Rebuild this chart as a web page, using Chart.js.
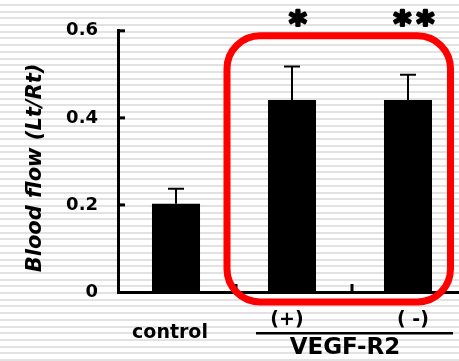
<!DOCTYPE html>
<html>
<head>
<meta charset="utf-8">
<script src="https://cdn.jsdelivr.net/npm/chart.js@4"></script>
<style>
html,body{margin:0;padding:0;}
body{width:459px;height:361px;overflow:hidden;
background:repeating-linear-gradient(to bottom,#ffffff 0px,#ffffff 4px,#e2e2e2 4px,#e2e2e2 6px,#ffffff 6px,#ffffff 6.7px);}
#wrap{position:absolute;left:0;top:0;width:459px;height:361px;overflow:hidden;}
canvas{position:absolute;left:0;top:0;}
</style>
</head>
<body>
<div id="wrap"><canvas id="c" width="480" height="361"></canvas></div>
<script>
const categories = ['control', '(+)', '( -)'];
const means = [0.203, 0.441, 0.441];
const errors = [0.034, 0.077, 0.058];
const stars = ['', '*', '**'];
const yTickLabels = ['0', '0.2', '0.4', '0.6'];
const groupLabel = 'VEGF-R2';
const yTitle = 'Blood flow (Lt/Rt)';

const FONT = '"DejaVu Sans", sans-serif';

const decor = {
  id: 'decor',
  afterDatasetsDraw(chart) {
    const ctx = chart.ctx;
    const xs = chart.scales.x, ys = chart.scales.y;
    ctx.save();
    // error bars
    ctx.strokeStyle = '#000';
    ctx.lineWidth = 2;
    means.forEach((m, i) => {
      const x = xs.getPixelForValue(i);
      const y0 = ys.getPixelForValue(m);
      const y1 = ys.getPixelForValue(m + errors[i]);
      ctx.beginPath();
      ctx.moveTo(x, y0); ctx.lineTo(x, y1);
      ctx.moveTo(x - 8, y1); ctx.lineTo(x + 8, y1);
      ctx.stroke();
    });
    // inward ticks on y axis
    ctx.fillStyle = '#000';
    const ax = chart.chartArea.left;
    [0.2, 0.4, 0.6].forEach(v => {
      const y = ys.getPixelForValue(v);
      ctx.fillRect(ax, y - 1.5, 7, 3);
    });
    // inward ticks on x axis at category boundaries
    for (let i = 0; i < categories.length - 1; i++) {
      const x = (xs.getPixelForValue(i) + xs.getPixelForValue(i + 1)) / 2 + 2;
      const yb = ys.getPixelForValue(0);
      ctx.fillRect(x - 1.5, yb - 8, 3, 8);
    }
    ctx.restore();
  },
  afterDraw(chart) {
    const ctx = chart.ctx;
    const xs = chart.scales.x, ys = chart.scales.y;
    ctx.save();
    // red rounded box
    const l = xs.getPixelForValue(1) - 65;
    const r = xs.getPixelForValue(2) + 42.5;
    const t = ys.getPixelForValue(0.6) + 5;
    const b = ys.getPixelForValue(0) + 10;
    ctx.strokeStyle = '#ff0000';
    ctx.lineWidth = 7;
    ctx.beginPath();
    ctx.roundRect(l, t, r - l, b - t, 33);
    ctx.stroke();
    // stars (each asterisk drawn separately with a gap)
    ctx.fillStyle = '#000';
    ctx.strokeStyle = '#000';
    ctx.lineWidth = 2.5;
    ctx.lineJoin = 'round';
    ctx.textAlign = 'center';
    ctx.textBaseline = 'middle';
    ctx.font = 'bold 34px ' + FONT;
    stars.forEach((s, i) => {
      if (!s) return;
      const n = s.length;
      const cx = xs.getPixelForValue(i) + 6;
      for (let k = 0; k < n; k++) {
        const sx = cx + (k - (n - 1) / 2) * 23;
        ctx.fillText('*', sx, 26);
        ctx.strokeText('*', sx, 26);
      }
    });
    // x labels
    ctx.font = 'bold 19px ' + FONT;
    ctx.fillText(categories[0], xs.getPixelForValue(0) - 6, 333);
    ctx.fillText(categories[1], xs.getPixelForValue(1) - 5, 320);
    ctx.fillText(categories[2], xs.getPixelForValue(2) + 5, 320);
    // group underline and label
    ctx.fillRect(256, 332, 197, 2.5);
    ctx.font = 'bold 23px ' + FONT;
    const gx = (xs.getPixelForValue(1) + xs.getPixelForValue(2)) / 2 - 5;
    ctx.fillText(groupLabel, gx, 348);
    // y title
    ctx.translate(36, 168);
    ctx.rotate(-Math.PI / 2);
    ctx.font = 'italic bold 21px ' + FONT;
    ctx.fillText(yTitle, 0, 0);
    ctx.restore();
  }
};

new Chart(document.getElementById('c'), {
  type: 'bar',
  data: {
    labels: categories,
    datasets: [{
      data: means,
      backgroundColor: '#000000',
      borderWidth: 0,
      barPercentage: 0.414,
      categoryPercentage: 1.0
    }]
  },
  options: {
    responsive: false,
    animation: false,
    events: [],
    layout: { padding: { top: 26, bottom: 69, left: 0, right: 14 } },
    plugins: { legend: { display: false }, tooltip: { enabled: false }, title: { display: false } },
    scales: {
      x: {
        type: 'category',
        offset: true,
        grid: { display: false, drawTicks: false },
        border: { display: true, color: '#000', width: 3 },
        ticks: { display: false },
        afterFit(s) { s.height = 0; }
      },
      y: {
        min: 0, max: 0.6,
        grid: { display: false, drawTicks: false },
        border: { display: true, color: '#000', width: 3 },
        ticks: {
          stepSize: 0.2,
          padding: 20,
          color: '#000',
          font: { family: FONT, size: 18, weight: 'bold' },
          callback: (v, i) => yTickLabels[i]
        },
        afterFit(s) { s.width = 118; }
      }
    }
  },
  plugins: [decor]
});
</script>
</body>
</html>
